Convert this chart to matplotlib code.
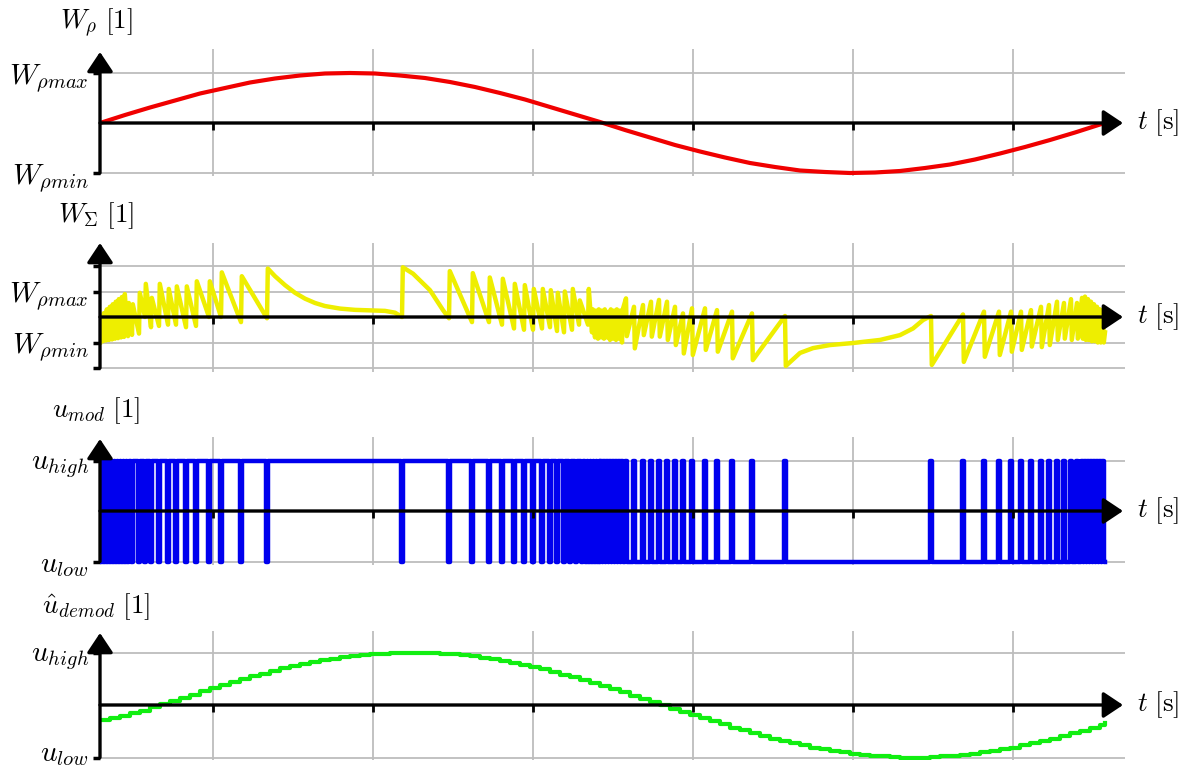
import matplotlib.pyplot as plt
from matplotlib.markers import TICKDOWN
from matplotlib.transforms import ScaledTranslation

plt.rcParams['mathtext.fontset'] = 'cm'
plt.rcParams['font.family'] = 'serif'

# time axis in arbitrary units (no tick labels in the figure), 0 .. 1005
T_END = 1005
grid_t = [113, 273, 433, 593, 753, 913]

### Data ###
# W_rho : input signal
red_t = list(range(0, 1001, 25)) + [1005]
red_v = [0.00, 0.16, 0.31, 0.45, 0.59, 0.70, 0.81, 0.89, 0.95, 0.99,
         1.00, 0.99, 0.95, 0.90, 0.82, 0.72, 0.60, 0.47, 0.32, 0.17,
         0.02, -0.14, -0.29, -0.44, -0.57, -0.69, -0.80, -0.88, -0.95, -0.98,
         -1.00, -0.99, -0.96, -0.90, -0.83, -0.73, -0.61, -0.48, -0.34, -0.19,
         -0.03, 0.00]

# u_mod : short low dips (first half) and short high pulses (second half)
low_dips = [1, 4, 7, 10, 13, 16, 19, 22, 25, 28, 32, 39, 45, 51, 59, 68, 76, 86, 96,
            109, 121, 141, 167, 302, 349, 372, 389, 402, 414, 424, 433, 442, 450,
            457, 464, 470, 476, 482, 486, 489, 492, 495, 498]
high_pulses = [501, 504, 507, 510, 513, 516, 519, 522, 526, 534, 543, 551, 559, 567,
               575, 583, 592, 605, 617, 632, 652, 685, 831, 863, 884, 899, 911, 921,
               931, 941, 949, 957, 964, 971, 977, 982, 985, 988, 991, 994, 997, 1000, 1003]

# W_sigma : integrator, jumps (time, value before, value after) + smooth stretches
jump_t = [0, 3, 6, 9, 12, 15, 18, 21, 24, 28, 32, 39, 45, 51, 59, 68, 76, 86, 96,
          109, 121, 141, 167, 302, 349, 372, 389, 402, 414, 424, 433, 442, 450,
          457, 464, 472, 479, 488, 492, 495, 498, 501, 504, 507, 510, 513, 516, 519, 522,
          526, 534, 543, 551, 559, 567, 575, 583, 592, 605, 617, 632, 652, 685,
          831, 863, 884, 899, 911, 921, 931, 941, 949, 957, 964, 971, 977,
          982, 985, 988, 991, 994, 997, 1000, 1003]
jump_from = [-1.0, -0.95, -0.92, -0.9, -0.88, -0.85, -0.83, -0.8, -0.78, -0.75, -0.7, -0.65,
             0.0, -0.4, -0.35, -0.3, -0.3, -0.4, -0.35, 0.0, 0.0, -0.2, -0.05, 0.0, -0.05,
             -0.2, -0.2, -0.3, -0.45, -0.5, -0.5, -0.45, -0.4, -0.55, -0.6, -0.5, -0.3,
             -0.3, -0.6, -0.8, -0.85, -0.8, -0.85, -0.8, -0.9, -0.85, -0.9, -0.85, -1.0,
             0.73, 0.4, 0.47, 0.6, 0.67, 0.6, 0.4, 0.14, 0.34, 0.34, 0.27, 0.21, 0.14, 0.04,
             0.04, 0.1, 0.21, 0.21, 0.21, 0.21, 0.27, 0.4, 0.47, 0.6, 0.55, 0.7, 0.55,
             0.75, 0.8, 0.7, 0.6, 0.5, 0.4, 0.3, 0.15]
jump_to = [0.0, 0.15, 0.3, 0.4, 0.5, 0.6, 0.7, 0.78, 0.9, 0.55, 0.5, 0.95,
           1.3, 0.75, 1.3, 1.1, 1.2, 1.2, 1.4, 1.4, 1.75, 1.6, 1.9, 1.95, 1.8,
           1.72, 1.55, 1.5, 1.3, 1.25, 1.1, 1.1, 1.05, 0.95, 1.0, 1.1, 0.65,
           1.1, 0.3, 0.25, 0.3, 0.25, 0.3, 0.2, 0.3, 0.25, 0.3, 0.25, 0.3,
           -0.75, -1.23, -0.71, -0.77, -0.77, -0.9, -1.1, -1.43, -1.49, -1.29, -1.36, -1.62, -1.69, -1.92,
           -1.88, -1.76, -1.56, -1.49, -1.36, -1.29, -1.16, -1.18, -1.1, -0.9, -0.85, -0.9, -0.85,
           -0.85, -0.9, -0.9, -0.95, -0.95, -1.0, -1.0, -1.0]
curve_t = [175, 185, 195, 205, 215, 225, 240, 255, 270, 285, 295,
           313, 330, 343,
           700, 713, 730, 753, 780, 800, 813, 823, 1005]
curve_v = [1.6, 1.25, 0.95, 0.72, 0.55, 0.43, 0.33, 0.28, 0.26, 0.24, 0.17,
           1.7, 1.05, 0.27,
           -1.41, -1.22, -1.1, -1.02, -0.9, -0.71, -0.45, -0.12, -0.6]

# u_demod : staircase, one value every 10 time units
green_t = list(range(0, 1001, 10)) + [1005]
green_v = [-0.29, -0.25, -0.21, -0.16, -0.11, -0.04, 0.02, 0.08, 0.14, 0.20,
           0.27, 0.32, 0.38, 0.44, 0.50, 0.55, 0.60, 0.65, 0.70, 0.74,
           0.78, 0.82, 0.85, 0.88, 0.91, 0.93, 0.95, 0.97, 0.98, 0.99,
           1.00, 1.00, 1.00, 0.99, 0.98, 0.97, 0.95, 0.93, 0.90, 0.87,
           0.84, 0.80, 0.77, 0.72, 0.68, 0.63, 0.58, 0.53, 0.48, 0.42,
           0.36, 0.30, 0.24, 0.18, 0.12, 0.06, 0.00, -0.07, -0.13, -0.19,
           -0.25, -0.31, -0.37, -0.43, -0.48, -0.54, -0.59, -0.64, -0.68, -0.73,
           -0.77, -0.81, -0.84, -0.87, -0.90, -0.93, -0.95, -0.97, -0.98, -0.99,
           -1.00, -1.00, -1.00, -0.99, -0.98, -0.97, -0.95, -0.93, -0.90, -0.88,
           -0.84, -0.81, -0.77, -0.73, -0.69, -0.64, -0.59, -0.54, -0.49, -0.43,
           -0.38, -0.35]

### Build drawing paths ###
# pulse train: baseline with 2-unit wide excursions
def pulse_path(centers, base, other, t0, t1, w=1.0):
    xs, ys = [t0], [base]
    for c in centers:
        xs += [c - w, c - w, c + w, c + w]
        ys += [base, other, other, base]
    xs.append(t1)
    ys.append(base)
    return xs, ys

bx1, by1 = pulse_path(low_dips, 1, -1, 0, 500)
bx2, by2 = pulse_path(high_pulses, -1, 1, 500, T_END)
blue_t, blue_v = bx1 + bx2, by1 + by2

pts = list(zip(curve_t, curve_v))
for t, a, b in zip(jump_t, jump_from, jump_to):
    pts.append((t, a))
    pts.append((t + 0.8, b))
pts.sort(key=lambda p: p[0])
ws_t = [p[0] for p in pts]
ws_v = [p[1] for p in pts]

### Figure ###
W, H = 1184, 766
fig = plt.figure(figsize=(W / 100, H / 100), dpi=100)

FS_TICK = 21
FS_LAB = 19.5
AX_LW = 2.4
GRID = '#bdbdbd'


def panel(top, bottom, zero, unit, tip, yt, ylabels, title, base_px, ybot):
    ax = fig.add_axes([100 / W, 1 - bottom / H, 1025 / W, (bottom - top) / H])
    ax.set_xlim(0, 1025)
    ax.set_ylim((zero - bottom) / unit, (zero - top) / unit)
    for s in ax.spines.values():
        s.set_visible(False)
    ax.set_xticks(grid_t)
    ax.set_xticklabels([])
    ax.tick_params(axis='x', length=0)
    ax.set_yticks(yt)
    ax.set_yticklabels(ylabels, fontsize=FS_TICK)
    ax.tick_params(axis='y', length=5, width=2.5, direction='out', pad=3)
    ax.grid(True, color=GRID, lw=1.3)
    ax.set_axisbelow(True)
    # y axis with arrow
    ax.annotate('', xy=(0, (zero - tip) / unit), xytext=(0, ybot),
                arrowprops=dict(arrowstyle='-|>,head_length=0.6,head_width=0.4',
                                color='k', lw=AX_LW, mutation_scale=20,
                                shrinkA=0, shrinkB=0),
                annotation_clip=False, zorder=6)
    # t axis with arrow
    ax.annotate('', xy=(1023, 0), xytext=(0, 0),
                arrowprops=dict(arrowstyle='-|>,head_length=0.6,head_width=0.4',
                                color='k', lw=AX_LW, mutation_scale=20,
                                shrinkA=0, shrinkB=0),
                annotation_clip=False, zorder=6)
    ax.plot(grid_t, [0] * len(grid_t), ls='none', marker=TICKDOWN,
            ms=5, mew=2, color='k', zorder=6)
    ax.text(1037, 0, r'$t\ [\mathrm{s}]$', fontsize=FS_LAB, ha='left', va='center')
    fig.text(96 / W, 1 - base_px / H, title, fontsize=FS_LAB, ha='center', va='baseline')
    return ax


wmax, wmin = r'$W_{\rho max}$', r'$W_{\rho min}$'
uhigh, ulow = r'$u_{high}$', r'$u_{low}$'

ax1 = panel(49, 176, 123, 50, 52, [-1, 1], [wmin, wmax], r'$W_{\rho}\ [1]$', 28, -1)
ax1.plot(red_t, red_v, color='#f00000', lw=3, zorder=4)

ax2 = panel(243, 372, 317, 25.5, 243, [-2, -1, 1, 2], ['', wmin, wmax, ''],
            r'$W_{\Sigma}\ [1]$', 222, -2)
ax2.plot(ws_t, ws_v, color='#eeee00', lw=3.2, zorder=4)

ax3 = panel(437, 565, 511, 50.5, 439, [-1, 1], [ulow, uhigh], r'$u_{mod}\ [1]$', 417, -1)
ax3.plot(blue_t, blue_v, color='#0000ee', lw=3.2, zorder=4)

ax4 = panel(631, 760, 705, 52.5, 633, [-1, 1], [ulow, uhigh],
            r'$\hat{u}_{demod}\ [1]$', 613, -1)
ax4.plot(green_t, green_v, color='#11ee11', lw=3, drawstyle='steps-post', zorder=4)

# bottom label sits at the figure edge: lift it a little so it stays readable
low_lab = ax4.get_yticklabels()[0]
low_lab.set_transform(low_lab.get_transform() + ScaledTranslation(0, 5 / 72, fig.dpi_scale_trans))

fig.savefig('out.png', dpi=100)
